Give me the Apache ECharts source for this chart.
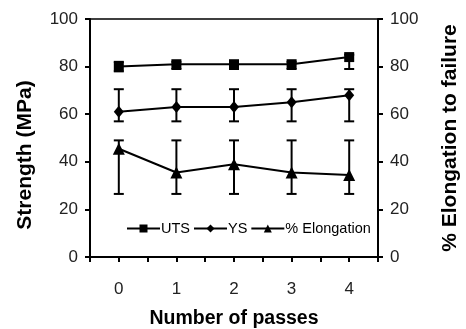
<!DOCTYPE html>
<html>
<head>
<meta charset="utf-8">
<script src="https://cdn.jsdelivr.net/npm/echarts@6/dist/echarts.min.js"></script>
<style>
  html, body { margin: 0; padding: 0; background: #fff; }
  #main { width: 466px; height: 329px; }
</style>
</head>
<body>
<div id="main"></div>
<script>
var passes = [0, 1, 2, 3, 4];
var uts = [80, 81, 81, 81, 84];
var utsLow = [78, 79, 79, 79, 79];
var utsHigh = [82, 82, 82, 82, 85];
var ys = [61, 63, 63, 65, 68];
var ysLow = [57, 57, 57, 57, 57];
var ysHigh = [70.5, 70.5, 70.5, 70.5, 70.5];
var elong = [45.5, 35.5, 39, 35.5, 34.5];
var elongLow = [26.5, 26.5, 26.5, 26.5, 26.5];
var elongHigh = [49, 49, 49, 49, 49];

var font = 'Liberation Sans, Arial, sans-serif';

function pairs(vals) {
    return passes.map(function (p, i) { return [p, vals[i]]; });
}
function bars(lo, hi) {
    return passes.map(function (p, i) { return [p, lo[i], hi[i]]; });
}

// error bar: vertical line plus two caps
function errorBar(params, api) {
    var top = api.coord([api.value(0), api.value(2)]);
    var bot = api.coord([api.value(0), api.value(1)]);
    var w = 5;
    var st = { stroke: '#000', lineWidth: 2 };
    return {
        type: 'group',
        children: [
            { type: 'line', shape: { x1: top[0], y1: top[1], x2: bot[0], y2: bot[1] }, style: st },
            { type: 'line', shape: { x1: top[0] - w, y1: top[1], x2: top[0] + w, y2: top[1] }, style: st },
            { type: 'line', shape: { x1: bot[0] - w, y1: bot[1], x2: bot[0] + w, y2: bot[1] }, style: st }
        ]
    };
}

var myChart = echarts.init(document.getElementById('main'));
var option = {
    animation: false,
    textStyle: { fontFamily: font, color: '#000' },
    grid: {
        left: 90, right: 88, top: 19, bottom: 72,
        outerBoundsMode: 'none',
        containLabel: false,
        show: true, borderColor: '#000', borderWidth: 1.5, backgroundColor: 'transparent'
    },
    legend: {
        data: ['UTS', 'YS', '% Elongation'],
        left: 121, top: 216,
        itemWidth: 33, itemHeight: 10, itemGap: 3,
        textStyle: { fontFamily: font, fontSize: 14.5, color: '#000', padding: [0, 0, 0, -4] }
    },
    xAxis: {
        type: 'value',
        min: -0.5, max: 4.5, interval: 0.5,
        name: 'Number of passes',
        nameLocation: 'middle',
        nameGap: 52,
        nameTextStyle: { fontFamily: font, fontSize: 19.5, fontWeight: 'bold', color: '#000' },
        axisLine: { onZero: false, lineStyle: { color: '#000', width: 2 } },
        axisTick: { inside: false, length: 5, lineStyle: { color: '#000', width: 2 } },
        axisLabel: {
            fontFamily: font, fontSize: 17, color: '#222', margin: 24,
            formatter: function (v) { return Number.isInteger(v) && v >= 0 ? String(v) : ''; }
        },
        splitLine: { show: false }
    },
    yAxis: [{
        type: 'value', min: 0, max: 100, interval: 20,
        position: 'left',
        name: 'Strength (MPa)',
        nameLocation: 'middle',
        nameGap: 54,
        nameTextStyle: { fontFamily: font, fontSize: 21, fontWeight: 'bold', color: '#000', padding: [0, 34, 0, 0] },
        axisLine: { show: true, onZero: false, lineStyle: { color: '#000', width: 2 } },
        axisTick: { show: true, length: 5, lineStyle: { color: '#000', width: 2 } },
        axisLabel: { fontFamily: font, fontSize: 17, color: '#222', margin: 12 },
        splitLine: { show: false }
    }, {
        type: 'value', min: 0, max: 100, interval: 20,
        position: 'right',
        name: '% Elongation to failure',
        nameLocation: 'middle',
        nameGap: 62,
        nameTextStyle: { fontFamily: font, fontSize: 21, fontWeight: 'bold', color: '#000' },
        axisLine: { show: true, onZero: false, lineStyle: { color: '#000', width: 2 } },
        axisTick: { show: true, length: 5, lineStyle: { color: '#000', width: 2 } },
        axisLabel: { fontFamily: font, fontSize: 17, color: '#222', margin: 12 },
        splitLine: { show: false }
    }],
    series: [{
        name: 'UTS err', type: 'custom', yAxisIndex: 0, renderItem: errorBar,
        data: bars(utsLow, utsHigh), z: 1
    }, {
        name: 'YS err', type: 'custom', yAxisIndex: 0, renderItem: errorBar,
        data: bars(ysLow, ysHigh), z: 1
    }, {
        name: 'Elong err', type: 'custom', yAxisIndex: 1, renderItem: errorBar,
        data: bars(elongLow, elongHigh), z: 1
    }, {
        name: 'UTS', type: 'line', yAxisIndex: 0,
        symbol: 'rect', symbolSize: 10,
        lineStyle: { color: '#000', width: 2 },
        itemStyle: { color: '#000' },
        data: pairs(uts), z: 3
    }, {
        name: 'YS', type: 'line', yAxisIndex: 0,
        symbol: 'diamond', symbolSize: [10, 12],
        lineStyle: { color: '#000', width: 2 },
        itemStyle: { color: '#000' },
        data: pairs(ys), z: 3
    }, {
        name: '% Elongation', type: 'line', yAxisIndex: 1,
        symbol: 'triangle', symbolSize: 12,
        lineStyle: { color: '#000', width: 2 },
        itemStyle: { color: '#000' },
        data: pairs(elong), z: 3
    }]
};
myChart.setOption(option);
</script>
</body>
</html>
